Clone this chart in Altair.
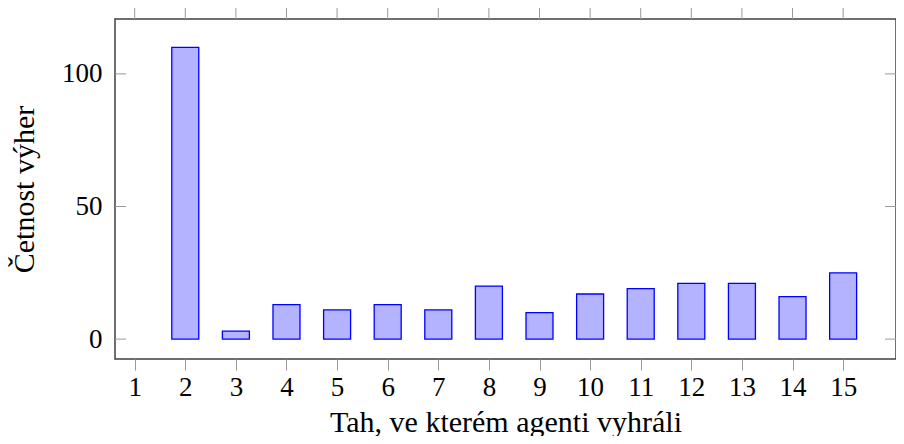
import altair as alt
import pandas as pd

moves = [2, 3, 4, 5, 6, 7, 8, 9, 10, 11, 12, 13, 14, 15]
wins = [110, 3, 13, 11, 13, 11, 20, 10, 17, 19, 21, 21, 16, 25]
x_ticks = list(range(1, 16))
y_ticks = [0, 50, 100]

FONT = "Liberation Serif"
W, H = 781, 340
TICK = "#9a9a9a"

xscale = alt.Scale(domain=[0.71, 15.946], nice=False, zero=False)
yscale = alt.Scale(domain=[-7.5, 120.7], nice=False, zero=False)

bars_df = pd.DataFrame({"tah": moves, "vyhry": wins})
xt_df = pd.DataFrame({"t": x_ticks})
yt_df = pd.DataFrame({"v": y_ticks})

bars = alt.Chart(bars_df).mark_bar(
    size=27, color="#b3b3ff", stroke="#0000ff", strokeWidth=1.3
).encode(
    x=alt.X("tah:Q", scale=xscale, axis=alt.Axis(
        values=x_ticks, domain=False, grid=False, tickSize=11, tickColor=TICK,
        tickWidth=1, labelFont=FONT, labelFontSize=27, labelColor="black",
        labelPadding=4, labelFlush=False,
        title="Tah, ve kterém agenti vyhráli", titleFont=FONT, titleFontSize=30,
        titleFontWeight="normal", titleColor="black", titleBaseline="alphabetic",
        titleY=72)),
    y=alt.Y("vyhry:Q", scale=yscale, axis=alt.Axis(
        values=y_ticks, domain=False, grid=False, ticks=False,
        labelFont=FONT, labelFontSize=27, labelColor="black", labelPadding=13,
        labelBaseline="middle", labelFlush=False,
        title="Četnost výher", titleFont=FONT, titleFontSize=30,
        titleFontWeight="normal", titleColor="black", titleBaseline="alphabetic",
        titleAngle=270, titleX=-82, titleY=H / 2, titleAlign="center")),
)

top_ticks = alt.Chart(xt_df).mark_rule(color=TICK, strokeWidth=1).encode(
    x=alt.X("t:Q", scale=xscale),
    y=alt.value(-11), y2=alt.value(0),
)

left_ticks = alt.Chart(yt_df).mark_rule(color=TICK, strokeWidth=1).encode(
    y=alt.Y("v:Q", scale=yscale),
    x=alt.value(0), x2=alt.value(11),
)

right_ticks = alt.Chart(yt_df).mark_rule(color=TICK, strokeWidth=1).encode(
    y=alt.Y("v:Q", scale=yscale),
    x=alt.value(W - 11), x2=alt.value(W),
)

chart = alt.layer(left_ticks, right_ticks, top_ticks, bars).properties(
    width=W, height=H,
    autosize=alt.AutoSizeParams(type="none"),
    padding={"left": 107, "top": 11, "right": 0, "bottom": 77},
).configure_view(stroke="#404040", strokeWidth=1.5)

chart.save("out.html", embed_options={"renderer": "svg", "actions": False})
